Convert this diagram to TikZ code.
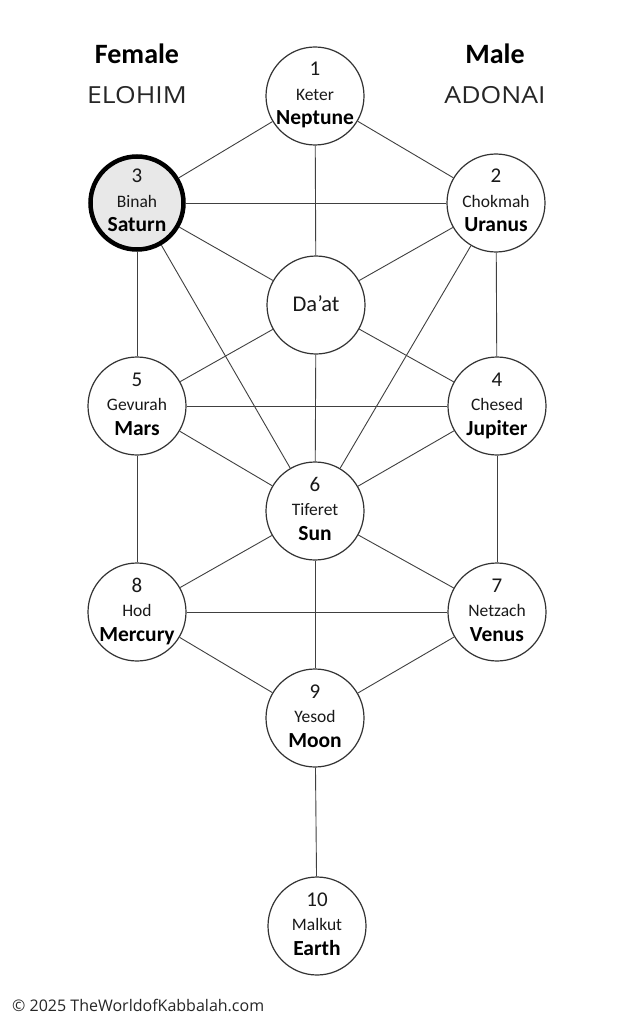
\documentclass[tikz,border=0pt]{standalone}
\usepackage{fontspec}
\setmainfont{Carlito}
\newfontfamily\opensans{Open Sans}
\newfontfamily\godfont[FakeStretch=1.13]{Open Sans}
\begin{document}
\begin{tikzpicture}[x=1pt,y=-1pt,
  sef/.style={circle, draw=black!80, line width=1.2pt, fill=white, minimum size=98pt, inner sep=0pt},
  binahsef/.style={draw=black, line width=4.5pt, fill=black!9, minimum size=93pt},
  conn/.style={draw=black!75, line width=0.9pt},
  num/.style={anchor=base, inner sep=0pt, text=black!90, font=\fontsize{21}{21}\selectfont},
  nm/.style={anchor=base, inner sep=0pt, text=black!90, font=\fontsize{17.5}{17.5}\selectfont},
  pl/.style={anchor=base, inner sep=0pt, text=black, font=\fontsize{21.5}{21.5}\selectfont\bfseries},
  head/.style={anchor=base, inner sep=0pt, text=black, font=\fontsize{28}{28}\selectfont\bfseries},
  god/.style={anchor=base, inner sep=0pt, text=black!85, font=\godfont\fontsize{23.5}{23.5}\selectfont},
]
\fill[white] (0,0) rectangle (633,1024);
\useasboundingbox (0,0) rectangle (633,1024);

\newcommand\sefira[7][]{%
  \node[sef,#1] (#2) at (#3,#4) {};
  \node[num] (#2-num) at (#3,#4-20) {#5};
  \node[nm]  (#2-name) at (#3,#4+4.5) {#6};
  \node[pl]  (#2-planet) at (#3,#4+29) {#7};
}

\sefira{keter}{315}{96}{1}{Keter}{Neptune}
\sefira[binahsef]{binah}{137}{203}{3}{Binah}{Saturn}
\sefira{chokmah}{496}{203}{2}{Chokmah}{Uranus}
\node[sef] (daat) at (316,305) {};
\node[nm, font=\fontsize{22.5}{22.5}\selectfont] (daat-name) at (316,311.5) {Da’at};
\sefira{gevurah}{137}{406}{5}{Gevurah}{Mars}
\sefira{chesed}{497}{406}{4}{Chesed}{Jupiter}
\sefira{tiferet}{315}{511}{6}{Tiferet}{Sun}
\sefira{hod}{137}{612}{8}{Hod}{Mercury}
\sefira{netzach}{497}{612}{7}{Netzach}{Venus}
\sefira{yesod}{315}{718}{9}{Yesod}{Moon}
\sefira{malkut}{317}{926}{10}{Malkut}{Earth}

\draw[conn] (keter) -- (binah);
\draw[conn] (keter) -- (chokmah);
\draw[conn] (keter) -- (daat);
\draw[conn] (binah) -- (chokmah);
\draw[conn] (binah) -- (daat);
\draw[conn] (chokmah) -- (daat);
\draw[conn] (binah) -- (gevurah);
\draw[conn] (chokmah) -- (chesed);
\draw[conn] (binah) -- (tiferet);
\draw[conn] (chokmah) -- (tiferet);
\draw[conn] (daat) -- (gevurah);
\draw[conn] (daat) -- (chesed);
\draw[conn] (daat) -- (tiferet);
\draw[conn] (gevurah) -- (chesed);
\draw[conn] (gevurah) -- (tiferet);
\draw[conn] (chesed) -- (tiferet);
\draw[conn] (gevurah) -- (hod);
\draw[conn] (chesed) -- (netzach);
\draw[conn] (tiferet) -- (hod);
\draw[conn] (tiferet) -- (netzach);
\draw[conn] (tiferet) -- (yesod);
\draw[conn] (hod) -- (netzach);
\draw[conn] (hod) -- (yesod);
\draw[conn] (netzach) -- (yesod);
\draw[conn] (yesod) -- (malkut);

\node[head] (female) at (137,64) {Female};
\node[god] (elohim) at (137,104) {ELOHIM};
\node[head] (male) at (495,64) {Male};
\node[god] (adonai) at (495,104) {ADONAI};

\node[anchor=base west, inner sep=0pt, text=black!85, font=\opensans\fontsize{16}{16}\selectfont] (copy) at (12,1011) {© 2025 TheWorldofKabbalah.com};
\end{tikzpicture}
\end{document}
